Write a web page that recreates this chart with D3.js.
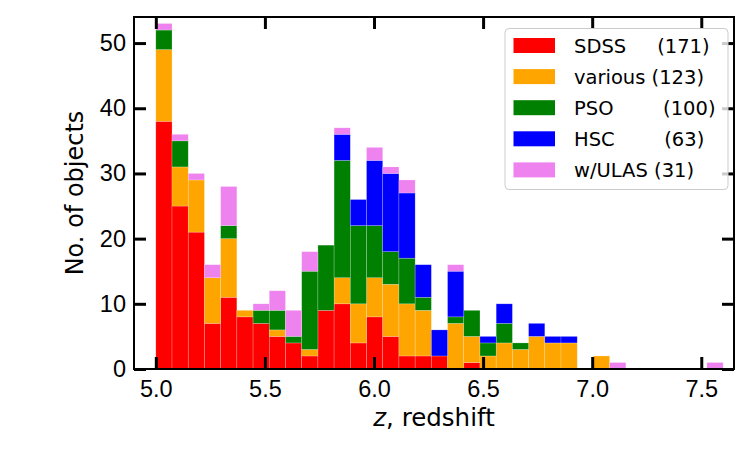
<!DOCTYPE html>
<html>
<head>
<meta charset="utf-8">
<script src="https://cdn.jsdelivr.net/npm/d3@7"></script>
<style>
  body { margin: 0; background: #fff; }
  svg { display: block; font-family: "DejaVu Sans", sans-serif; }
</style>
</head>
<body>
<svg id="chart" width="750" height="450"></svg>
<script>
// histogram bin edges (35 bins from z=5.0 to 7.6)
const binEdges = [5.0000, 5.0743, 5.1486, 5.2229, 5.2971, 5.3714, 5.4457, 5.5200, 5.5943,
  5.6686, 5.7429, 5.8171, 5.8914, 5.9657, 6.0400, 6.1143, 6.1886, 6.2629, 6.3371,
  6.4114, 6.4857, 6.5600, 6.6343, 6.7086, 6.7829, 6.8571, 6.9314, 7.0057, 7.0800,
  7.1543, 7.2286, 7.3029, 7.3771, 7.4514, 7.5257, 7.6000];

// counts per bin, stacked bottom to top
const sdss    = [38,25,21,7,11,8,7,5,4,2,9,10,4,8,5,2,2,2,0,1,0,0,0,0,0,0,0,0,0,0,0,0,0,0,0];
const various = [11,6,8,7,9,1,0,1,0,1,0,4,6,6,8,8,7,0,7,4,2,4,3,5,4,4,0,2,0,0,0,0,0,0,0];
const pso     = [3,4,0,0,2,0,2,3,1,12,10,18,12,8,5,7,2,0,1,4,2,3,1,0,0,0,0,0,0,0,0,0,0,0,0];
const hsc     = [0,0,0,0,0,0,0,0,0,0,0,4,4,10,12,10,5,4,7,0,1,3,0,2,1,1,0,0,0,0,0,0,0,0,0];
const ulas    = [1,1,1,2,6,0,1,3,4,3,0,1,0,2,1,2,0,0,1,0,0,0,0,0,0,0,0,0,1,0,0,0,0,0,1];

const seriesKeys   = ["sdss", "various", "pso", "hsc", "ulas"];
const seriesLabels = ["SDSS     (171)", "various (123)", "PSO        (100)", "HSC        (63)", "w/ULAS (31)"];
const seriesColors = ["#ff0000", "#ffa500", "#008000", "#0000ff", "#ee82ee"];

const xTicks = [5.0, 5.5, 6.0, 6.5, 7.0, 7.5];
const yTicks = [0, 10, 20, 30, 40, 50];

const svg = d3.select("#chart");
const margin = {top: 17, right: 16, bottom: 81, left: 134};
const width = 750, height = 450;

const x = d3.scaleLinear().domain([4.9, 7.65]).range([margin.left, width - margin.right]);
const y = d3.scaleLinear().domain([0, 54]).range([height - margin.bottom, margin.top]);

// table for stacking
const table = binEdges.slice(0, -1).map((e, i) => ({
  x0: e, x1: binEdges[i + 1],
  sdss: sdss[i], various: various[i], pso: pso[i], hsc: hsc[i], ulas: ulas[i]
}));
const stacked = d3.stack().keys(seriesKeys)(table);

const plot = svg.append("g");
stacked.forEach((layer, li) => {
  plot.append("g")
      .attr("fill", seriesColors[li])
    .selectAll("rect")
    .data(layer.filter(d => d[1] > d[0]))
    .join("rect")
      .attr("x", d => x(d.data.x0))
      .attr("width", d => x(d.data.x1) - x(d.data.x0))
      .attr("y", d => y(d[1]))
      .attr("height", d => y(d[0]) - y(d[1]))
      .attr("stroke", "rgba(255,255,255,0.35)")
      .attr("stroke-width", 0.6);
});

// axes, ticks pointing inward on all four sides
const tickLen = 12;
function styleAxis(g) {
  g.select(".domain").remove();
  g.selectAll(".tick line").attr("stroke", "#000").attr("stroke-width", 3);
  g.selectAll(".tick text").attr("fill", "#000").attr("font-size", 23.5);
}
svg.append("g")
    .attr("transform", `translate(0,${height - margin.bottom})`)
    .call(d3.axisBottom(x).tickValues(xTicks).tickFormat(d3.format(".1f")).tickSize(-tickLen).tickPadding(11))
    .call(styleAxis);
svg.append("g")
    .attr("transform", `translate(0,${margin.top})`)
    .call(d3.axisTop(x).tickValues(xTicks).tickFormat("").tickSize(-tickLen))
    .call(styleAxis);
svg.append("g")
    .attr("transform", `translate(${margin.left},0)`)
    .call(d3.axisLeft(y).tickValues(yTicks).tickSize(-tickLen).tickPadding(8))
    .call(styleAxis);
svg.append("g")
    .attr("transform", `translate(${width - margin.right},0)`)
    .call(d3.axisRight(y).tickValues(yTicks).tickFormat("").tickSize(-tickLen))
    .call(styleAxis);

// frame
svg.append("rect")
    .attr("x", margin.left).attr("y", margin.top)
    .attr("width", width - margin.left - margin.right)
    .attr("height", height - margin.top - margin.bottom)
    .attr("fill", "none").attr("stroke", "#000").attr("stroke-width", 2);

// axis labels
const xl = svg.append("text")
    .attr("x", (margin.left + width - margin.right) / 2)
    .attr("y", 426)
    .attr("text-anchor", "middle")
    .attr("font-size", 24.5);
xl.append("tspan").attr("font-style", "italic").text("z");
xl.append("tspan").text(", redshift");

svg.append("text")
    .attr("transform", `translate(83,${(margin.top + height - margin.bottom) / 2}) rotate(-90)`)
    .attr("text-anchor", "middle")
    .attr("font-size", 24)
    .text("No. of objects");

// legend
const legend = svg.append("g").attr("transform", "translate(505,28.5)");
legend.append("rect")
    .attr("width", 223).attr("height", 161).attr("rx", 4)
    .attr("fill", "#fff").attr("fill-opacity", 0.8)
    .attr("stroke", "#cccccc").attr("stroke-width", 1);
seriesLabels.forEach((lab, i) => {
  const cy = 17 + i * 31.1;
  legend.append("rect")
      .attr("x", 8.5).attr("y", cy - 7.5)
      .attr("width", 41.5).attr("height", 15)
      .attr("fill", seriesColors[i]);
  legend.append("text")
      .attr("x", 69).attr("y", cy)
      .attr("dy", "0.36em")
      .attr("font-size", 19.5)
      .attr("xml:space", "preserve")
      .style("white-space", "pre")
      .text(lab);
});
</script>
</body>
</html>
